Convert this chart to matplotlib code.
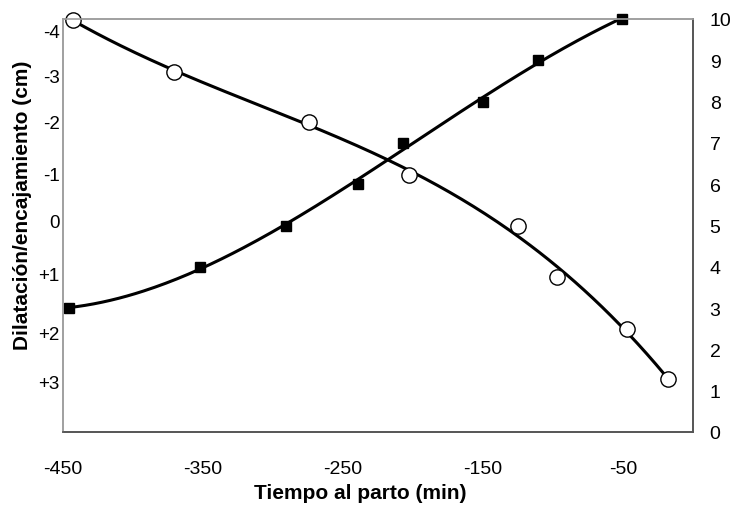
import matplotlib
matplotlib.use('Agg')
import matplotlib.pyplot as plt
import numpy as np

# ------------------------------------------------------------------------- DATA
# dilatacion (cuadrados, eje derecho 0-10)
dil_time = [-446, -352, -291, -239, -207, -150, -111, -51]
dil_cm = [3.0, 4.0, 5.0, 6.0, 7.0, 8.0, 9.0, 10.0]

enc_time = [-443, -371, -274, -203, -125, -97, -47, -18]
enc_val = [9.98, 8.72, 7.51, 6.22, 4.99, 3.75, 2.49, 1.28]

# etiquetas del eje izquierdo (estaciones) y su altura en la escala derecha
st_labels = ['-4', '-3', '-2', '-1', '0', '+1', '+2', '+3']
st_pos = [9.71, 8.62, 7.53, 6.25, 5.11, 3.83, 2.42, 1.23]

x_ticks = [-450, -350, -250, -150, -50]
r_ticks = list(range(0, 11))

# ------------------------------------------------------------------------ FIGURE
plt.rcParams['font.family'] = ['Liberation Sans', 'DejaVu Sans']
fig = plt.figure(figsize=(7.33, 5.10), dpi=100)
ax = fig.add_axes([63/733, 1-433/510, 630/733, 413/510])
ax2 = ax.twinx()

# polynomial trend lines (like the spreadsheet)
p1 = np.polyfit(dil_time, dil_cm, 3)
xx1 = np.linspace(min(dil_time), max(dil_time), 200)
ax.plot(xx1, np.polyval(p1, xx1), color='black', lw=2.2, zorder=2)
ax.plot(dil_time, dil_cm, ls='none', marker='s', ms=7.5, color='black',
	zorder=3, clip_on=False)

p2 = np.polyfit(enc_time, enc_val, 3)
xx2 = np.linspace(min(enc_time), max(enc_time), 200)
ax.plot(xx2, np.polyval(p2, xx2), color='black', lw=2.2, zorder=2)
ax.plot(enc_time, enc_val, ls='none', marker='o', ms=11, mfc='white',
	mec='black', mew=1.0, zorder=3, clip_on=False)

ax.set_xlim(-450, 0)
ax.set_ylim(0, 10)
ax2.set_ylim(0, 10)

ax.set_xticks(x_ticks)
ax.set_xticklabels([str(v) for v in x_ticks], fontsize=14)
ax.set_yticks(st_pos)
ax.set_yticklabels(st_labels, fontsize=13.5)
ax2.set_yticks(r_ticks)
ax2.set_yticklabels([str(v) for v in r_ticks], fontsize=14)

ax.tick_params(axis='x', length=0, pad=20)
ax.tick_params(axis='y', length=0, pad=2.5)
ax2.tick_params(axis='y', length=0, pad=12)

for a in (ax, ax2):
	a.spines['left'].set_color('#a0a0a0')
	a.spines['top'].set_color('#a0a0a0')
	a.spines['right'].set_color('#555555')
	a.spines['bottom'].set_color('#555555')
	for s in a.spines.values():
		s.set_linewidth(1.2)

fig.text(360/733, 1-494/510, 'Tiempo al parto (min)', fontsize=15,
	fontweight='bold', ha='center', va='center')
fig.text(23/733, 1-205/510, 'Dilatación/encajamiento (cm)', fontsize=15,
	fontweight='bold', ha='center', va='center', rotation=90)

fig.savefig('out.png', dpi=100)
